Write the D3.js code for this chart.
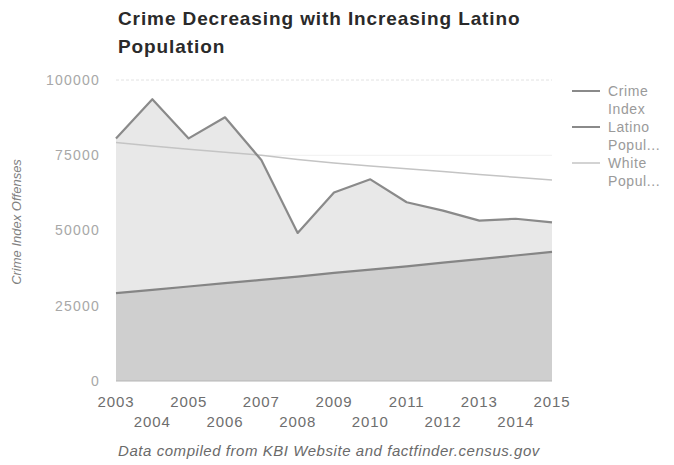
<!DOCTYPE html>
<html>
<head>
<meta charset="utf-8">
<script src="https://cdn.jsdelivr.net/npm/d3@7"></script>
<style>
  html, body { margin: 0; padding: 0; background: #fff; }
  svg { display: block; }
  text { font-family: "Liberation Sans", Arial, sans-serif; }
</style>
</head>
<body>
<svg id="chart" width="674" height="465"></svg>
<script>
const years = [2003, 2004, 2005, 2006, 2007, 2008, 2009, 2010, 2011, 2012, 2013, 2014, 2015];
const crimeIndex = [80600, 93600, 80600, 87600, 73400, 49200, 62600, 67000, 59400, 56600, 53300, 53900, 52700];
const latinoPop = [29200, 30300, 31400, 32500, 33600, 34700, 35900, 37000, 38100, 39300, 40500, 41700, 42900];
const whitePop = [79200, 78100, 77000, 76000, 75000, 73600, 72400, 71400, 70500, 69600, 68600, 67700, 66800];
const yTicks = [0, 25000, 50000, 75000, 100000];
const titleLines = ["Crime Decreasing with Increasing Latino", "Population"];
const legendEntries = [
  { lines: ["Crime", "Index"], color: "#8a8a8a", width: 2 },
  { lines: ["Latino", "Popul..."], color: "#8a8a8a", width: 2 },
  { lines: ["White", "Popul..."], color: "#c4c4c4", width: 1.5 }
];
const yAxisTitle = "Crime Index Offenses";
const caption = "Data compiled from KBI Website and factfinder.census.gov";

const svg = d3.select("#chart");
const x = d3.scaleLinear().domain([2003, 2015]).range([116, 552]);
const y = d3.scaleLinear().domain([0, 100000]).range([381, 80]);

// gridlines
svg.append("g").selectAll("line").data(yTicks.filter(d => d > 0)).join("line")
  .attr("x1", x(2003)).attr("x2", x(2015))
  .attr("y1", d => y(d)).attr("y2", d => y(d))
  .attr("stroke", d => d === 100000 ? "#e2e2e2" : "#f0f0f0")
  .attr("stroke-width", 1)
  .attr("stroke-dasharray", d => d === 100000 ? "3,2" : null);

// y labels
svg.append("g").selectAll("text").data(yTicks).join("text")
  .attr("x", 100).attr("y", d => y(d)).attr("dy", "0.35em")
  .attr("text-anchor", "end")
  .attr("font-size", 14).attr("letter-spacing", "1.2px")
  .attr("fill", "#a8a8a8")
  .text(d => d);

const crimeData = years.map((yr, i) => ({ yr, v: crimeIndex[i] }));
const latinoData = years.map((yr, i) => ({ yr, v: latinoPop[i] }));
const whiteData = years.map((yr, i) => ({ yr, v: whitePop[i] }));

const area = d3.area().x(d => x(d.yr)).y0(y(0)).y1(d => y(d.v));
const line = d3.line().x(d => x(d.yr)).y(d => y(d.v));

svg.append("path").datum(crimeData).attr("d", area).attr("fill", "#e8e8e8");
svg.append("path").datum(latinoData).attr("d", area).attr("fill", "#cfcfcf");

// baseline
svg.append("line").attr("x1", x(2003)).attr("x2", x(2015))
  .attr("y1", y(0)).attr("y2", y(0)).attr("stroke", "#b5b5b5").attr("stroke-width", 1);

svg.append("path").datum(whiteData).attr("d", line)
  .attr("fill", "none").attr("stroke", "#c4c4c4").attr("stroke-width", 1.5);
svg.append("path").datum(latinoData).attr("d", line)
  .attr("fill", "none").attr("stroke", "#858585").attr("stroke-width", 2.2);
svg.append("path").datum(crimeData).attr("d", line)
  .attr("fill", "none").attr("stroke", "#8a8a8a").attr("stroke-width", 2.2)
  .attr("stroke-linejoin", "round");

// x labels (staggered)
svg.append("g").selectAll("text").data(years).join("text")
  .attr("x", d => x(d))
  .attr("y", (d, i) => i % 2 === 0 ? 402 : 422)
  .attr("dy", "0.35em")
  .attr("text-anchor", "middle")
  .attr("font-size", 15).attr("letter-spacing", "0.9px")
  .attr("fill", "#6e6e6e")
  .text(d => d);

// title
svg.append("g").selectAll("text").data(titleLines).join("text")
  .attr("x", 118).attr("y", (d, i) => 25 + i * 28)
  .attr("font-size", 19).attr("font-weight", "bold").attr("letter-spacing", "0.9px")
  .attr("fill", "#2a2a2a")
  .text(d => d);

// y axis title
svg.append("text")
  .attr("transform", "translate(16,222) rotate(-90)")
  .attr("text-anchor", "middle").attr("dy", "0.35em")
  .attr("font-size", 13).attr("font-style", "italic")
  .attr("fill", "#808080")
  .text(yAxisTitle);

// caption
svg.append("text")
  .attr("x", 329).attr("y", 451).attr("dy", "0.35em")
  .attr("text-anchor", "middle")
  .attr("font-size", 15).attr("font-style", "italic").attr("letter-spacing", "0.55px")
  .attr("fill", "#6a6a6a")
  .text(caption);

// legend
const lg = svg.append("g");
legendEntries.forEach((e, i) => {
  const top = 91 + i * 36;
  lg.append("line").attr("x1", 572).attr("x2", 600)
    .attr("y1", top).attr("y2", top)
    .attr("stroke", e.color).attr("stroke-width", e.width);
  e.lines.forEach((t, j) => {
    lg.append("text").attr("x", 608).attr("y", top + j * 18).attr("dy", "0.35em")
      .attr("font-size", 14).attr("letter-spacing", "0.6px").attr("fill", "#9a9a9a").text(t);
  });
});
</script>
</body>
</html>
